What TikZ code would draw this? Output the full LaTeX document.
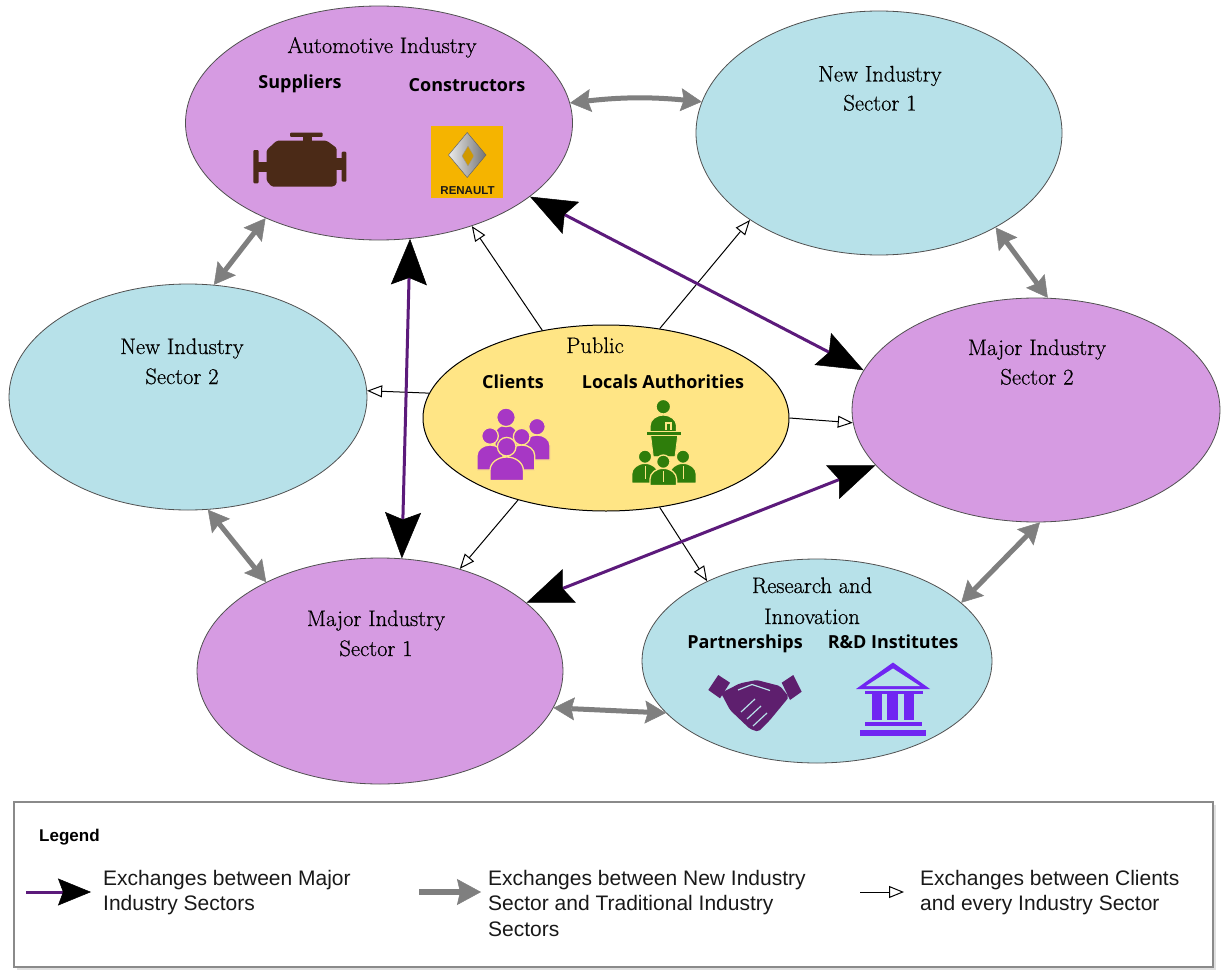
\documentclass[tikz,border=0pt]{standalone}
\usepackage{fontspec}
\usetikzlibrary{shapes.geometric,arrows.meta}
\newfontfamily\opensans{Open Sans}
\newfontfamily\arialf{Liberation Sans}
\newfontfamily\ttlfont{Latin Modern Roman}[FakeBold=0.6]
\definecolor{purpleFill}{HTML}{D69BE2}
\definecolor{blueFill}{HTML}{B7E1E9}
\definecolor{yellowFill}{HTML}{FFE585}
\definecolor{edgegrey}{HTML}{505050}
\definecolor{purpleLine}{HTML}{5C1A7B}
\definecolor{arrowgrey}{HTML}{7F7F7F}
\definecolor{engineC}{HTML}{4B2A17}
\definecolor{renaultY}{HTML}{F5B400}
\definecolor{clientC}{HTML}{A737C5}
\definecolor{authC}{HTML}{2E7D0B}
\definecolor{handC}{HTML}{5E1F6E}
\definecolor{instC}{HTML}{7026F2}
\definecolor{legendEdge}{HTML}{8A8A8A}
\newcommand\drawpers[7]{%
  \filldraw[fill=#7, draw=yellowFill, line width=1.3pt] (#1-#4,#6) -- (#1-#4,#5+#4*0.8) arc[start angle=180,end angle=360,x radius=#4,y radius=#4*0.8] -- (#1+#4,#6) -- cycle;
  \filldraw[fill=#7, draw=yellowFill, line width=1.3pt] (#1,#2) circle[radius=#3];
}
\tikzset{
  ell/.style={ellipse, inner sep=0pt, draw=edgegrey, line width=0.8pt},
  purplearrow/.style={draw=purpleLine, line width=3pt,
     {Stealth[length=46pt,width=36pt,inset=7pt,black,line width=0.5pt]}-{Stealth[length=46pt,width=36pt,inset=7pt,black,line width=0.5pt]}},
  greyarrow/.style={draw=arrowgrey, line width=5pt,
     {Stealth[length=21pt,width=23pt,inset=3pt,line width=0.5pt]}-{Stealth[length=21pt,width=23pt,inset=3pt,line width=0.5pt]}},
  openarrow/.style={draw=black, line width=1pt, -{Triangle[open,length=15pt,width=12pt,fill=white]}},
  ttl/.style={font=\ttlfont\fontsize{22.5}{27}\selectfont, text=black, anchor=base, inner sep=0pt},
  lab/.style={font=\opensans\bfseries\fontsize{18}{22}\selectfont, text=black, anchor=base, inner sep=0pt},
  legtext/.style={font=\arialf\fontsize{21}{25}\selectfont, text=black!90, anchor=base west, inner sep=0pt}
}
\begin{document}
\begin{tikzpicture}[x=1pt,y=-1pt]
\useasboundingbox (0,0) rectangle (1223,979);
\fill[white] (0,0) rectangle (1223,979);

% ---------------- ellipses ----------------
\node[ell, fill=purpleFill, minimum width=387pt, minimum height=234pt] (auto) at (379,123) {};
\node[ell, fill=blueFill, minimum width=366pt, minimum height=244pt] (nis1) at (879,133) {};
\node[ell, fill=blueFill, minimum width=358pt, minimum height=226pt] (nis2) at (188,397) {};
\node[ell, fill=purpleFill, minimum width=368pt, minimum height=224pt] (mis2) at (1036,410) {};
\node[ell, fill=yellowFill, draw=black, line width=1pt, minimum width=366pt, minimum height=186pt] (pub) at (606,418) {};
\node[ell, fill=purpleFill, minimum width=366pt, minimum height=226pt] (mis1) at (380,671) {};
\node[ell, fill=blueFill, minimum width=350pt, minimum height=204pt] (res) at (817,661) {};

% ---------------- texts ----------------
\node[ttl] (tauto) at (382,53) {Automotive Industry};
\node[lab] (tsup) at (300,89) {Suppliers};
\node[lab] (tcon) at (467,92) {Constructors};
\node[ttl] (tnis1a) at (880,81.5) {New Industry};
\node[ttl] (tnis1b) at (880,110.5) {Sector 1};
\node[ttl] (tnis2a) at (182,354) {New Industry};
\node[ttl] (tnis2b) at (182,384) {Sector 2};
\node[ttl] (tmis2a) at (1037,355) {Major Industry};
\node[ttl] (tmis2b) at (1037,384.5) {Sector 2};
\node[ttl] (tpub) at (595,353) {Public};
\node[lab] (tcli) at (513,388) {Clients};
\node[lab] (tloc) at (663,388) {Locals Authorities};
\node[ttl] (tmis1a) at (376,626) {Major Industry};
\node[ttl] (tmis1b) at (376,656) {Sector 1};
\node[ttl] (tresa) at (812,593) {Research and};
\node[ttl] (tresb) at (812,624) {Innovation};
\node[lab] (tpar) at (745,648) {Partnerships};
\node[lab] (trd) at (893,648) {R\&D Institutes};

% ---------------- engine icon ----------------
\fill[engineC, rounded corners=1pt] (290,132.7) rectangle (322.7,136.9);
\fill[engineC] (303.3,136) rectangle (311.7,141.5);
\fill[engineC, rounded corners=1.5pt] (276.7,140.7) -- (326.7,140.7) -- (336.7,148) -- (336.7,184) -- (333,186.7) -- (272,186.7) -- (266.7,181) -- (266.7,150) -- cycle;
\fill[engineC] (258,161.7) rectangle (267.5,171.7);
\fill[engineC, rounded corners=1pt] (253.3,150) rectangle (258.5,183.3);
\fill[engineC] (336,158.3) rectangle (342,170);
\fill[engineC, rounded corners=1pt] (341.7,151.7) rectangle (346.3,181.7);

% ---------------- renault logo ----------------
\fill[renaultY] (430.7,126) rectangle (503.3,198.3);
\shade[left color=white!92!black, right color=black!55] (467.2,132.5) -- (486,155) -- (467.2,177.5) -- (448.5,155) -- cycle;
\fill[renaultY!85!black] (468,146) -- (474,156) -- (468,166) -- (462,156) -- cycle;
\draw[black!60, line width=0.5pt] (467.2,132.5) -- (486,155) -- (467.2,177.5) -- (448.5,155) -- cycle;
\draw[black!40, line width=0.4pt] (468,146) -- (474,156) -- (468,166) -- (462,156) -- cycle;
\node[font=\arialf\bfseries\fontsize{11.5}{13}\selectfont, text=black!90, anchor=base, inner sep=0pt] (tren) at (467.5,194) {RENAULT};

% ---------------- clients icon ----------------
\drawpers{506}{417.3}{9.3}{11}{425}{455}{clientC}
\drawpers{537}{426.7}{8.3}{13}{435}{460}{clientC}
\drawpers{490}{436}{8.3}{13}{445}{470}{clientC}
\drawpers{521.7}{436.7}{8.3}{13}{445}{470}{clientC}
\drawpers{506.7}{446.7}{9.3}{16.7}{457}{480.5}{clientC}

% ---------------- local authorities icon ----------------
\drawpers{663.3}{406.7}{7.3}{13.3}{415}{432}{authC}
\draw[yellowFill, line width=1.2pt] (666,430) -- (666,423) -- (671,423) -- (671,430);
\filldraw[fill=authC, draw=yellowFill, line width=0.8pt] (646.7,431) rectangle (681.7,435.5);
\filldraw[fill=authC, draw=yellowFill, line width=0.8pt] (650.7,435.5) -- (677.7,435.5) -- (675,456.7) -- (653.3,456.7) -- cycle;
\drawpers{645}{456.7}{6.7}{13.3}{463.3}{483.3}{authC}
\drawpers{683}{456.7}{6.7}{13.3}{463.3}{483.3}{authC}
\drawpers{663.3}{461.7}{6.7}{13.3}{468.3}{485.5}{authC}
\draw[yellowFill, line width=1pt] (645,466) -- (645,479) (683,466) -- (683,479) (663.3,471) -- (663.3,482);

% ---------------- handshake icon ----------------
\fill[handC] (708.3,690) -- (718.3,675) -- (730,682.7) -- (720,698.3) -- cycle;
\fill[handC] (781.7,682.7) -- (793.3,675) -- (801.7,691.7) -- (790,700) -- cycle;
\fill[handC, rounded corners=2pt] (721,693) -- (740,683.3) -- (756.7,680) -- (780,686) -- (789,697) -- (770,720) -- (758.3,731.7) -- (750,729) -- (730,710) -- cycle;
\draw[blueFill, line width=1.2pt] (738,690) -- (752,684.5) -- (770,690.5);
\draw[blueFill, line width=1.2pt] (741,712) -- (755,699) (747,719) -- (761,706) (753,726) -- (767,713);

% ---------------- institute icon ----------------
\fill[instC] (893,662.5) -- (930,689) -- (856,689) -- cycle;
\fill[blueFill] (893,668.5) -- (920,686) -- (866,686) -- cycle;
\fill[instC] (864.5,690.5) rectangle (922.5,694);
\fill[instC] (871.7,694) rectangle (881.7,719.5);
\fill[instC] (887.3,694) rectangle (897.7,719.5);
\fill[instC] (904.3,694) rectangle (914.3,719.5);
\fill[instC] (865,721.5) rectangle (922.3,726.3);
\fill[instC] (860,729.5) rectangle (926,736);

% ---------------- connectors: public to sectors ----------------
\draw[openarrow] (pub.126.9) -- (auto.-48.8);
\draw[openarrow] (pub.59) -- (nis1.-146);
\draw[openarrow] (pub.172.3) -- (nis2.2);
\draw[openarrow] (pub.0) -- (mis2.-176.9);
\draw[openarrow] (pub.-137.6) -- (mis1.52.6);
\draw[openarrow] (pub.-59.5) -- (res.144);

% ---------------- connectors: grey ----------------
\draw[greyarrow] (auto.6) to[bend left=6] (nis1.170.8);
\draw[greyarrow] (auto.-140) -- (nis2.77.9);
\draw[greyarrow] (nis1.-39.9) -- (mis2.84.9);
\draw[greyarrow] (nis2.-80.5) -- (mis1.142.4);
\draw[greyarrow] (mis1.-12.6) -- (res.-161.5);
\draw[greyarrow] (res.22) -- (mis2.-88);

% ---------------- connectors: purple ----------------
\draw[purplearrow] (auto.-75.6) -- (mis1.79.6);
\draw[purplearrow] (auto.-26.9) -- (mis2.167.2);
\draw[purplearrow] (mis1.25) -- (mis2.-161.7);

% ---------------- legend ----------------
\fill[black!12] (17,805) rectangle (1216,970);
\node[draw=legendEdge, line width=1.2pt, fill=white, inner sep=0pt, minimum width=1199pt, minimum height=165pt] (legbox) at (613.5,884.5) {};
\node[font=\arialf\bfseries\fontsize{17}{20}\selectfont, text=black, anchor=base west, inner sep=0pt] (tleg) at (39,841) {Legend};
\coordinate (la1) at (26,892);
\coordinate (la2) at (91,892);
\draw[draw=purpleLine, line width=3pt, -{Stealth[length=33pt,width=27pt,inset=5pt,black,line width=0.5pt]}] (la1) -- (la2);
\node[legtext] (l1a) at (103,885) {Exchanges between Major};
\node[legtext] (l1b) at (103,910.7) {Industry Sectors};
\coordinate (lb1) at (419,892);
\coordinate (lb2) at (481,892);
\draw[draw=arrowgrey, line width=6pt, -{Stealth[length=24pt,width=26pt,inset=3pt,line width=0.5pt]}] (lb1) -- (lb2);
\node[legtext] (l2a) at (488,885) {Exchanges between New Industry};
\node[legtext] (l2b) at (488,910.7) {Sector and Traditional Industry};
\node[legtext] (l2c) at (488,936.5) {Sectors};
\coordinate (lc1) at (860,892);
\coordinate (lc2) at (904,892);
\draw[openarrow] (lc1) -- (lc2);
\node[legtext] (l3a) at (920,885) {Exchanges between Clients};
\node[legtext] (l3b) at (920,910.7) {and every Industry Sector};
\end{tikzpicture}
\end{document}
